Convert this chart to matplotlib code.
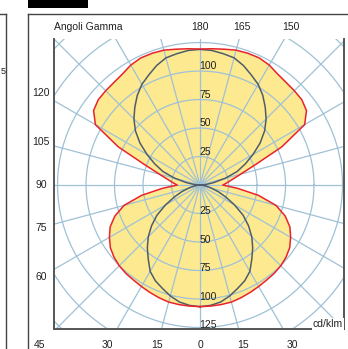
import numpy as np
import matplotlib.pyplot as plt
from matplotlib.patches import Rectangle
from matplotlib.lines import Line2D

plt.rcParams['font.family'] = ['Liberation Sans', 'DejaVu Sans']

# gamma angles (0 = straight down, 180 = straight up), 5 degree steps
gamma_low = [0, 5, 10, 15, 20, 25, 30, 35, 40, 45, 50, 55, 60, 65, 70, 75, 80, 85, 90]
gamma_up = [90, 95, 100, 105, 110, 115, 120, 125, 130, 135, 140, 145, 150, 155, 160, 165, 170, 175, 180]

# C0-C180 plane (red, filled)
red_low = [106.7, 106.6, 106.5, 106.3, 105.2, 104, 102.8, 101.8, 101.2, 100.2,
           98.5, 96, 91.8, 87, 79.5, 69, 52, 33, 20]
red_up = [20, 24, 29, 37, 51, 79, 106, 114, 116.5, 117,
          117.5, 118.8, 121.5, 123, 123, 122.5, 121, 120, 119.3]

# C90-C270 plane (dark)
dark_low = [106.7, 106, 104.2, 100.7, 96.5, 92.7, 87.5, 79.2, 71.9, 64.2,
            55.5, 46.1, 35, 25, 17, 10, 5, 2, 0]
dark_up = [0, 5, 12, 23, 34.6, 43.8, 53.7, 64.4, 74, 82,
           89, 96, 102, 106.5, 111.5, 115.5, 117, 118.5, 119]

ring_values = [25, 50, 75, 100, 125]
left_labels = [120, 105, 90, 75, 60]
top_labels = [180, 165, 150]
bottom_labels = [45, 30, 15, 0, 15, 30]
bottom_signs = [-1, -1, -1, 1, 1, 1]

W, H = 348, 349
fig = plt.figure(figsize=(W / 100, H / 100), dpi=100)


def fx(px):
    return px / W


def fy(py):
    return 1 - py / H


ax = fig.add_axes([fx(54), fy(329), 290 / W, 290 / H])
ax.set_xlim(-128.1, 126.3)
ax.set_ylim(-126.3, 128.1)
ax.set_xticks([])
ax.set_yticks([])
for s in ['left', 'bottom', 'right']:
    ax.spines[s].set_color('#555555')
    ax.spines[s].set_linewidth(1.4)
ax.spines['top'].set_visible(False)


def curve(low, up):
    g = np.radians(np.r_[gamma_low, gamma_up[1:]])
    r = np.r_[low, up[1:]]
    x_r = r * np.sin(g)
    y_r = -r * np.cos(g)
    # right half going up, then left half coming down
    x = np.r_[x_r, -x_r[::-1]]
    y = np.r_[y_r, y_r[::-1]]
    return x, y


rx, ry = curve(red_low, red_up)
dx, dy = curve(dark_low, dark_up)

ax.fill(rx, ry, color='#fde98f', lw=0, zorder=1)

grid_c = '#9fc1d6'
t = np.linspace(0, 2 * np.pi, 400)
for rr in range(25, 226, 25):
    ax.plot(rr * np.cos(t), rr * np.sin(t), color=grid_c, lw=0.9, zorder=2)
for a in range(0, 360, 15):
    ar = np.radians(a)
    ax.plot([0, 220 * np.cos(ar)], [0, 220 * np.sin(ar)], color=grid_c, lw=0.9, zorder=2)

ax.plot(dx, dy, color='#4f5d6b', lw=1.1, zorder=3)
ax.plot(rx, ry, color='#e8232b', lw=1.1, zorder=4)

tkw = dict(fontsize=7.5, color='#222222', clip_on=False)
for rv in ring_values:
    if rv < 125:
        ax.text(-0.8, rv + 4.3, str(rv), ha='left', va='center', zorder=5, **tkw)
    ax.text(-0.8, -rv + 2.2, str(rv), ha='left', va='center', zorder=5, **tkw)

top_row = 138.6
for g in top_labels:
    ax.text(top_row * np.tan(np.radians(180 - g)), top_row, str(g),
            ha='center', va='center', **tkw)
left_col = 139.5
for g in left_labels:
    ax.text(-left_col, left_col * np.tan(np.radians(g - 90)), str(g),
            ha='center', va='center', **tkw)
bot_row = 140.4
for g, sgn in zip(bottom_labels, bottom_signs):
    ax.text(sgn * bot_row * np.tan(np.radians(g)), -bot_row, str(g),
            ha='center', va='center', **tkw)

ax.text(125.3, -121.8, 'cd/klm', ha='right', va='center', zorder=6,
        bbox=dict(facecolor='white', edgecolor='none', pad=0.6), **tkw)

fig.text(fx(54), fy(27), 'Angoli Gamma', ha='left', va='center', fontsize=7.5, color='#222222')

# surrounding panel frames
lc = '#444444'
fig.add_artist(Line2D([fx(28), fx(28)], [fy(14), fy(349)], color=lc, lw=1.0, transform=fig.transFigure))
fig.add_artist(Line2D([fx(28), fx(348)], [fy(14), fy(14)], color=lc, lw=1.0, transform=fig.transFigure))
fig.add_artist(Line2D([fx(6), fx(6)], [fy(14), fy(349)], color=lc, lw=1.0, transform=fig.transFigure))
fig.add_artist(Line2D([fx(0), fx(6)], [fy(14), fy(14)], color=lc, lw=1.0, transform=fig.transFigure))
fig.patches.append(Rectangle((fx(28), fy(7.5)), 60 / W, 7.5 / H, transform=fig.transFigure,
                             facecolor='black', edgecolor='none'))
fig.text(fx(0.2), fy(71), '5', ha='left', va='center', fontsize=6.5, color='#222222')

fig.savefig('out.png', dpi=100)
